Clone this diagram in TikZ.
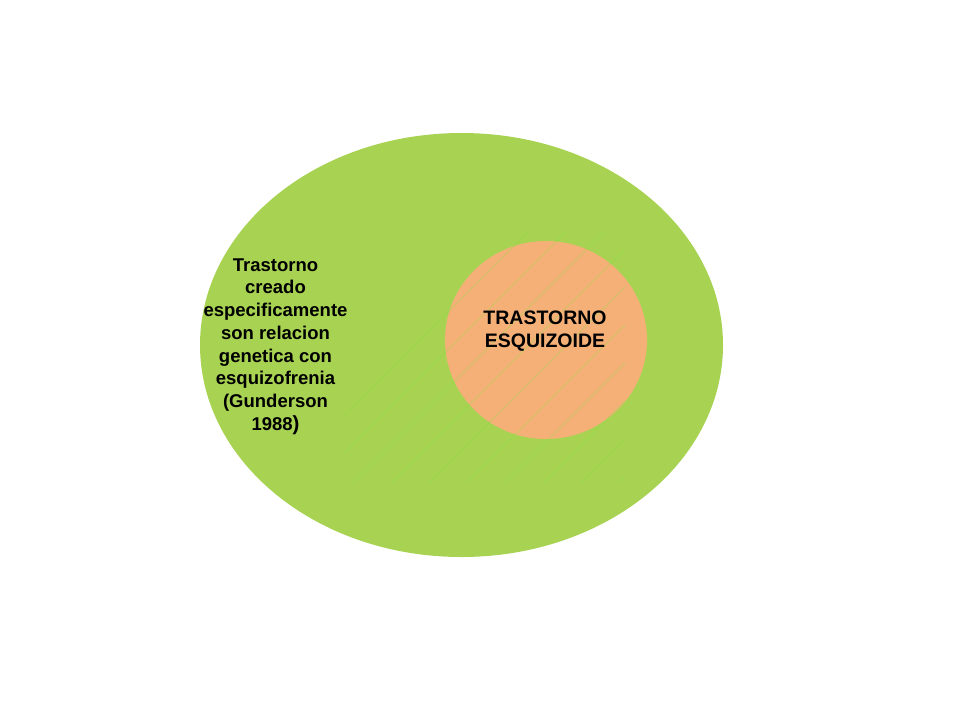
\documentclass[tikz,border=0pt]{standalone}
\usepackage{fontspec}
\setmainfont{Liberation Sans}
\usetikzlibrary{shapes.geometric}
\definecolor{bigGreen}{RGB}{168,210,82}
\definecolor{innerOrange}{RGB}{245,176,120}
\definecolor{hatchGreen}{RGB}{120,232,60}
\tikzset{
  blob/.style={ellipse, inner sep=0pt, draw=none},
  hatchline/.style={draw=hatchGreen, opacity=0.22, line width=1.1pt},
  lefttext/.style={align=center, inner sep=0pt, font=\bfseries\fontsize{18.5pt}{22.7pt}\selectfont},
  innertext/.style={align=center, inner sep=0pt, font=\bfseries\fontsize{19.5pt}{23pt}\selectfont}
}
\begin{document}
\begin{tikzpicture}[x=1pt,y=-1pt]
\useasboundingbox (0,0) rectangle (960,720);
\fill[white] (0,0) rectangle (960,720);
\node[blob, fill=bigGreen, minimum width=523pt, minimum height=424pt] (outer) at (461.5,345) {};
\node[blob, fill=innerOrange, minimum width=202pt, minimum height=198pt] (inner) at (546,340) {};
\begin{scope}
  \clip (345,232) rectangle (625,482);
  \foreach \i in {0,...,16}
    \draw[hatchline] (240+\i*38,520) -- ++(320,-320);
\end{scope}
\node[lefttext] (desc) at (275.5,346.5) {Trastorno\\creado\\especificamente\\son relacion\\genetica con\\esquizofrenia\\(Gunderson\\1988{\fontsize{20.5pt}{22.7pt}\selectfont)}};
\node[innertext] (label) at (545,331.5) {TRASTORNO\\ESQUIZOIDE};
\end{tikzpicture}
\end{document}
